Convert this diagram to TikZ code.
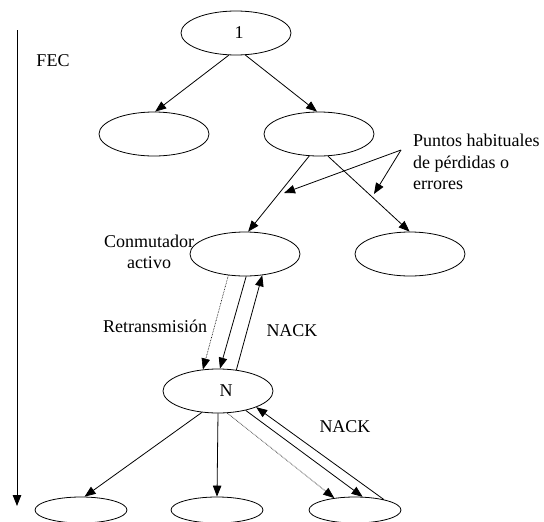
\documentclass[tikz,border=0pt]{standalone}
\usepackage{fontspec}
\setmainfont{Liberation Serif}
\usetikzlibrary{arrows.meta,shapes.geometric}
\begin{document}
\begin{tikzpicture}[x=1pt,y=-1pt,
  txt/.style={font=\fontsize{18}{21.5}\selectfont,inner sep=0pt},
  ell/.style={txt,draw,ellipse,minimum width=110pt,minimum height=44pt,line width=0.8pt},
  ells/.style={draw,ellipse,minimum width=92pt,minimum height=26pt,inner sep=0pt,line width=0.8pt},
  arr/.style={-{Triangle[length=11pt,width=8.5pt]},line width=0.8pt},
  dotarr/.style={arr,dash pattern=on 0.7pt off 0.9pt,line width=0.6pt}]
\useasboundingbox (0,0) rectangle (544,522);
% nodes
\node[ell] (n1) at (236,33) {\hspace{6pt}1};
\node[ell] (a) at (154,134) {};
\node[ell] (b) at (319,134) {};
\node[ell] (c) at (245,254) {};
\node[ell] (d) at (410,254) {};
\node[ell] (N) at (218,391) {\hspace{16pt}N};
\node[ells] (e1) at (81,510) {};
\node[ells] (e2) at (217,510) {};
\node[ells] (e3) at (355,510) {};
% labels
\node[txt] (fec) at (53,61) {FEC};
\node[txt,align=center] (conm) at (149,252) {Conmutador\\activo};
\node[txt] (retr) at (155,326) {Retransmisión};
\node[txt] (nack1) at (292,331) {NACK};
\node[txt] (nack2) at (345,427) {NACK};
\node[txt,anchor=west,align=left] (pts) at (413,162) {Puntos habituales\\de pérdidas o\\errores};
% time axis
\coordinate (ax1) at (17,30);
\coordinate (ax2) at (17,506);
\draw[arr] (ax1) -- (ax2);
% tree arrows
\draw[arr] (n1.252) -- (a.87);
\draw[arr] (n1.293) -- (b.95);
\draw[arr] (b.246) -- (c.82);
\draw[arr] (b.292) -- (d.91);
% loss points
\coordinate (p) at (401,150);
\coordinate (p1) at (284,193);
\coordinate (p2) at (374,194);
\draw[arr] (p) -- (p1);
\draw[arr] (p) -- (p2);
% retransmission between active switch and N
\draw[dotarr] (c.232) -- (N.125);
\draw[arr] (c.273) -- (N.85);
\draw[arr] (N.49) -- (c.309);
% N to leaves
\draw[arr] (N.233) -- (e1.75);
\draw[arr] (N.270) -- (e2.90);
\draw[dotarr] (N.293) -- (e3.150);
\draw[arr] (N.325) -- (e3.60);
\draw[arr] (e3.20) -- (N.337);
\end{tikzpicture}
\end{document}
